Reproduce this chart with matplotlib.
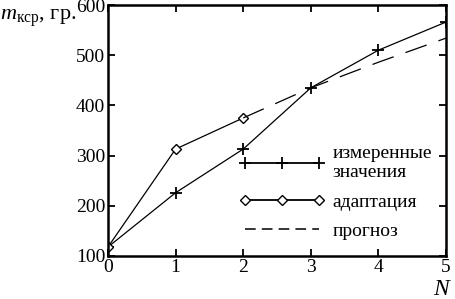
import numpy as np
import matplotlib
matplotlib.use('Agg')
import matplotlib.pyplot as plt
from matplotlib.lines import Line2D

plt.rcParams['font.family'] = ['Liberation Serif', 'DejaVu Serif']
plt.rcParams['mathtext.fontset'] = 'custom'
plt.rcParams['mathtext.rm'] = 'Liberation Serif'
plt.rcParams['mathtext.it'] = 'Liberation Serif:italic'

# data
n_meas = [0, 1, 2, 3, 4, 5]
m_meas = [118, 226, 313, 435, 510, 566]
n_adapt = [0, 1, 2]
m_adapt = [118, 313, 375]
n_fc = [2, 3, 4, 5]
m_fc = [375, 435, 486, 534]
labels = ['измеренные\nзначения', 'адаптация', 'прогноз']

fig = plt.figure(figsize=(4.56, 2.99), dpi=100)
ax = fig.add_axes([108/456, 1 - 256/299, 338/456, 251/299])

ax.plot(n_meas, m_meas, color='black', lw=0.9, marker='+', ms=8, mew=1.3)
ax.plot(n_adapt, m_adapt, color='black', lw=0.9, marker='D', ms=5.5,
        mfc='white', mew=1)
ax.plot(n_fc, m_fc, color='black', lw=0.9, ls=(0, (18, 10)))

ax.set_xlim(0, 5)
ax.set_ylim(100, 600)
ax.set_xticks(range(6))
ax.set_yticks(range(100, 601, 100))
ax.tick_params(direction='in', top=True, right=True, length=5, width=1.3,
               labelsize=14, pad=2)
for s in ax.spines.values():
    s.set_linewidth(1.8)

# legend handles (dashes are shorter in the legend)
handles = [
    Line2D([], [], color='black', lw=1.3, marker='+', ms=8, mew=1.3),
    Line2D([], [], color='black', lw=1.3, marker='D', ms=5.5, mfc='white', mew=1),
    Line2D([], [], color='black', lw=1.1, ls=(0, (7, 4))),
]
ax.legend(handles, labels, loc='upper left', bbox_to_anchor=(0.36, 0.482),
          frameon=False, borderpad=0, handlelength=4.4, numpoints=3,
          labelspacing=0.6, handletextpad=0.4, fontsize=14)

fig.text(0.0, 1 - 20/299, r'$m_{\mathrm{кср}}$, гр.', fontsize=16, ha='left',
         va='baseline')
fig.text(441/456, 1 - 295/299, 'N', fontsize=17, style='italic', ha='center',
         va='baseline')

fig.savefig('out.png', dpi=100)
